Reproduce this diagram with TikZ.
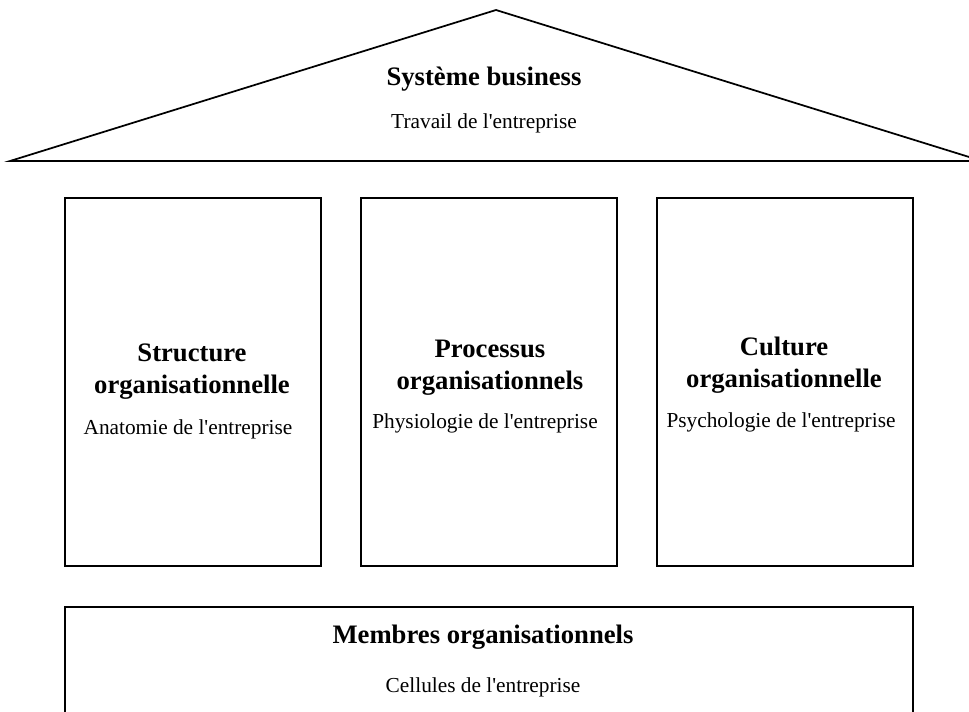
\documentclass[tikz,border=0pt]{standalone}
\usepackage{fontspec}
\setmainfont{Liberation Serif}
\usetikzlibrary{positioning}

\begin{document}
\begin{tikzpicture}[x=0.75pt, y=-0.75pt,
    pillar/.style={rectangle, draw=black, line width=1.3pt, minimum width=192pt, minimum height=276pt, inner sep=0pt},
    titleText/.style={font=\fontsize{20}{24}\selectfont\bfseries, align=center, anchor=base, inner sep=0pt},
    subText/.style={font=\fontsize{16}{19}\selectfont, anchor=base, inner sep=0pt}]
    \useasboundingbox (0,0) rectangle (969,711);
    \clip (0,0) rectangle (969,711);

    % roof
    \coordinate (roofLeft) at (10,161);
    \coordinate (roofApex) at (496,10);
    \coordinate (roofRight) at (982,161);
    \draw [line width=1.3pt] (roofLeft) -- (roofApex) -- (roofRight) -- cycle;
    \node [titleText] (systemeTitle) at (484,85) {Système business};
    \node [subText] (systemeSub) at (484,128) {Travail de l\textquotesingle entreprise};

    % pillars
    \node [pillar] (structureBox) at (193,382) {};
    \node [pillar] (processusBox) at (489,382) {};
    \node [pillar] (cultureBox) at (785,382) {};

    \node [titleText] (structureTitle) at (192,393) {Structure\\organisationnelle};
    \node [subText] (structureSub) at (188,434) {Anatomie de l\textquotesingle entreprise};
    \node [titleText] (processusTitle) at (490,389) {Processus\\organisationnels};
    \node [subText] (processusSub) at (485,428) {Physiologie de l\textquotesingle entreprise};
    \node [titleText] (cultureTitle) at (784,387) {Culture\\organisationnelle};
    \node [subText] (cultureSub) at (781,427) {Psychologie de l\textquotesingle entreprise};

    % base
    \node [pillar, minimum width=636pt, minimum height=150pt, anchor=north] (membresBox) at (489,606) {};
    \node [titleText] (membresTitle) at (483,643) {Membres organisationnels};
    \node [subText] (membresSub) at (483,692) {Cellules de l\textquotesingle entreprise};
\end{tikzpicture}
\end{document}
